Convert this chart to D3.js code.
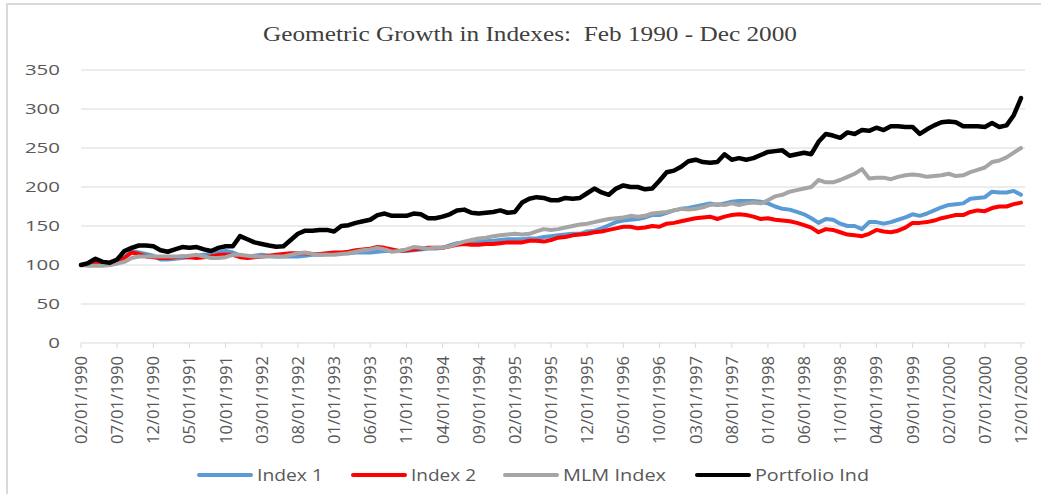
<!DOCTYPE html>
<html lang="en">
<head>
<meta charset="UTF-8">
<title>Geometric Growth in Indexes</title>
<script src="https://d3js.org/d3.v7.min.js"></script>
<style>
    body { margin: 0; background: #fff; }
    svg { display: block; }
    .tick-label { font-family: "Open Sans", sans-serif; fill: #595959; }
</style>
</head>
<body>
<svg width="1041" height="494"></svg>
<script>
    // monthly categories, Feb 1990 .. Dec 2000
    const months = d3.timeMonth.range(new Date(1990, 1, 1), new Date(2001, 0, 1));
    const yTicks = [0, 50, 100, 150, 200, 250, 300, 350];
    const seriesNames = ["Index 1", "Index 2", "MLM Index", "Portfolio Ind"];
    const seriesColors = ["#5b9bd5", "#ff0000", "#a5a5a5", "#000000"];

    const index1 = [100,101,103,102,102,105,110,118,116,114,112,107,107,108,109,110,112,113,114,116,
        118,116,112,111,112,113,112,111,111,111,111,112,113,113,114,115,115,115,116,116,
        116,117,118,118,118,118,119,120,121,121,122,125,128,129,129,130,131,131,132,133,
        133,133,134,134,136,137,138,139,140,140,143,144,147,151,155,157,158,159,161,164,
        164,167,170,172,173,175,177,179,177,179,181,182,182,182,181,179,175,172,171,168,
        165,160,154,159,158,153,150,150,146,155,155,153,155,158,161,165,163,166,170,174,
        177,178,179,185,186,187,194,193,193,195,190];

    const index2 = [100,101,103,102,102,105,109,116,114,111,110,109,109,110,111,110,109,110,111,113,
        113,113,110,109,110,111,112,113,114,115,115,115,114,114,115,116,116,117,119,120,
        121,123,122,120,118,119,120,121,122,122,122,124,126,127,126,126,127,127,128,129,
        129,129,131,131,130,132,135,136,138,139,140,142,143,145,147,149,149,147,148,150,
        149,153,154,156,158,160,161,162,159,162,164,165,164,162,159,160,158,157,156,154,
        151,148,142,146,145,142,139,138,137,140,145,143,142,144,148,154,154,155,157,160,
        162,164,164,168,170,169,173,175,175,178,180];

    const mlmIndex = [100,99,99,99,100,102,104,109,111,111,111,111,111,111,111,112,113,111,109,109,
        110,113,113,112,111,111,111,111,111,113,115,116,114,113,113,113,114,115,117,119,
        120,122,120,117,118,120,123,122,121,122,122,124,127,130,132,134,135,137,138,139,
        140,139,140,143,146,145,146,148,150,152,153,155,157,159,160,161,163,162,163,166,
        167,168,170,172,171,172,174,177,178,177,179,177,179,180,179,183,188,190,194,196,
        198,200,209,206,206,209,213,217,223,211,212,212,210,213,215,216,215,213,214,215,
        217,214,215,219,222,225,232,234,238,244,250];

    const portfolio = [100,102.5,108,104,103,107,118,122,125,125,124,119,117,120,123,122,123,120,118,122,
        124,124,137,133,129,127,125,123.5,124,132,140,144,144,145,145,143,150,151,154,156,
        158,164,166,163,163,163,166,165,160,160,162,165,170,171,167,166,167,168,170,167,
        168,180,185,187,186,183,183,186,185,186,192,198,193,190,198,202,200,200,197,198,
        208,219,221,226,233,235,232,231,232,242,235,237,235,237,241,245,246,247,240,242,
        244,242,258,268,266,263,270,268,273,272,276,273,278,278,277,277,268,274,279,283,
        284,283,278,278,278,277,282,277,279,292,314];

    const seriesData = [index1, index2, mlmIndex, portfolio];

    const svg = d3.select("svg");
    const fmt = d3.timeFormat("%m/%d/%Y");

    // outer chart border
    svg.append("path")
        .attr("d", "M7,494 L7,4 L1041,4")
        .attr("fill", "none")
        .attr("stroke", "#d9d9d9")
        .attr("stroke-width", 2);

    // title
    svg.append("text")
        .attr("x", 530).attr("y", 41)
        .attr("text-anchor", "middle")
        .attr("textLength", 534)
        .attr("lengthAdjust", "spacingAndGlyphs")
        .style("white-space", "pre")
        .style("font-family", "'Liberation Serif', 'Times New Roman', serif")
        .style("font-size", "22px")
        .style("fill", "#404040")
        .text("Geometric Growth in Indexes:  Feb 1990 - Dec 2000");

    const x = d3.scaleLinear().domain([0, months.length - 1]).range([81, 1021]);
    const y = d3.scaleLinear().domain([0, 350]).range([343, 70]);

    // horizontal gridlines
    svg.append("g")
        .selectAll("line")
        .data(yTicks.filter(d => d > 0))
        .join("line")
        .attr("x1", 81).attr("x2", 1025)
        .attr("y1", d => y(d)).attr("y2", d => y(d))
        .attr("stroke", "#d9d9d9")
        .attr("stroke-width", 1);

    // y labels
    svg.append("g")
        .selectAll("text")
        .data(yTicks)
        .join("text")
        .attr("class", "tick-label")
        .attr("x", 60)
        .attr("y", d => y(d) + 5)
        .attr("text-anchor", "end")
        .attr("textLength", d => String(d).length * 11.7)
        .attr("lengthAdjust", "spacingAndGlyphs")
        .style("font-size", "15px")
        .text(d => d);

    // x axis line + ticks
    svg.append("line")
        .attr("x1", 81).attr("x2", 1025)
        .attr("y1", y(0)).attr("y2", y(0))
        .attr("stroke", "#d9d9d9");

    const tickIdx = d3.range(0, months.length, 5);
    svg.append("g")
        .selectAll("line")
        .data(tickIdx)
        .join("line")
        .attr("x1", d => x(d)).attr("x2", d => x(d))
        .attr("y1", y(0)).attr("y2", y(0) + 5)
        .attr("stroke", "#d9d9d9");

    svg.append("g")
        .selectAll("text")
        .data(tickIdx)
        .join("text")
        .attr("class", "tick-label")
        .attr("transform", d => `translate(${x(d) + 6},356) rotate(-90)`)
        .attr("text-anchor", "end")
        .attr("textLength", 88)
        .attr("lengthAdjust", "spacingAndGlyphs")
        .style("font-size", "17px")
        .text(d => fmt(months[d]));

    // series lines
    const line = d3.line()
        .x((d, i) => x(i))
        .y(d => y(d));

    svg.append("g")
        .selectAll("path")
        .data(seriesData)
        .join("path")
        .attr("d", d => line(d))
        .attr("fill", "none")
        .attr("stroke", (d, i) => seriesColors[i])
        .attr("stroke-width", (d, i) => i === 3 ? 4.5 : 4)
        .attr("stroke-linejoin", "round")
        .attr("stroke-linecap", "round");

    // legend
    const legendX = [199, 353, 505, 697];
    const legendW = [66, 65, 103, 114];
    const legend = svg.append("g")
        .selectAll("g")
        .data(seriesNames)
        .join("g")
        .attr("transform", (d, i) => `translate(${legendX[i]},475)`);

    legend.append("line")
        .attr("x1", 0).attr("x2", 52)
        .attr("stroke", (d, i) => seriesColors[i])
        .attr("stroke-width", 4)
        .attr("stroke-linecap", "round");

    legend.append("text")
        .attr("class", "tick-label")
        .attr("x", 58).attr("y", 6)
        .attr("textLength", (d, i) => legendW[i])
        .attr("lengthAdjust", "spacingAndGlyphs")
        .style("font-size", "17px")
        .text(d => d);
</script>
</body>
</html>
